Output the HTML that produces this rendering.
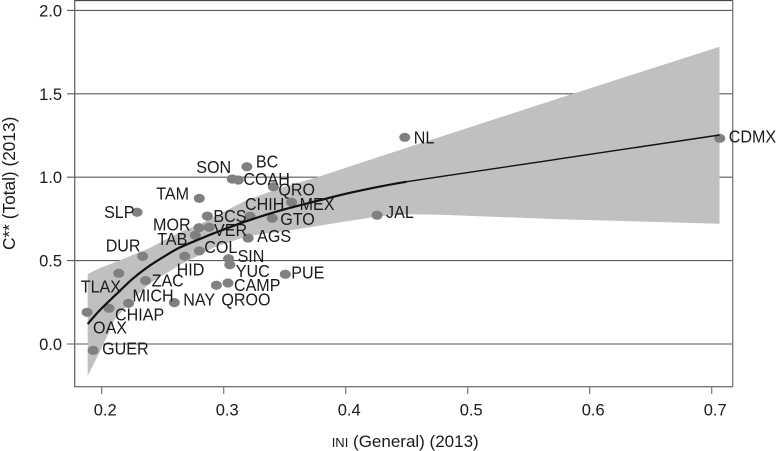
<!DOCTYPE html>
<html>
<head>
<meta charset="utf-8">
<title>C** vs INI (2013)</title>
<style>
html,body{margin:0;padding:0;background:#fff;}
svg{display:block;}
text{font-family:"Liberation Sans",sans-serif;fill:#1a1a1a;}
</style>
</head>
<body>
<svg id="chart" width="778" height="451" viewBox="0 0 778 451" xmlns="http://www.w3.org/2000/svg">
  <g id="grid"></g>
  <path id="band" fill="#c0c0c0"></path>
  <g id="points"></g>
  <path id="fit" fill="none" stroke="#111" stroke-width="2.2"></path>
  <path id="fitThin" fill="none" stroke="#111" stroke-width="1.4"></path>
  <g id="frame"></g>
  <g id="ticks"></g>
  <g id="labels"></g>
  <text transform="translate(15,250) rotate(-90) scale(.96,1)" font-size="18">C** (Total) (2013)</text>
  <text x="331.7" y="447" font-size="17"><tspan font-size="13">INI</tspan> (General) (2013)</text>
</svg>
<script>
const states = ["GUER","OAX","CHIAP","MICH","TLAX","ZAC","NAY","QROO","CAMP","PUE","YUC","SIN","COL","HID","DUR","TAB","MOR","VER","BCS","SLP","TAM","SON","COAH","BC","QRO","CHIH","MEX","GTO","AGS","JAL","NL","CDMX"];
const iniValues = [0.193,0.188,0.206,0.222,0.214,0.236,0.2595,0.294,0.3035,0.3505,0.305,0.304,0.280,0.268,0.2336,0.2767,0.2798,0.288,0.2866,0.229,0.280,0.307,0.312,0.319,0.3407,0.3216,0.3557,0.3398,0.320,0.4257,0.4484,0.7066];
const cValues = [-0.038,0.190,0.214,0.244,0.424,0.380,0.248,0.352,0.366,0.418,0.475,0.511,0.558,0.526,0.526,0.652,0.697,0.700,0.767,0.790,0.873,0.989,0.983,1.063,0.943,0.766,0.850,0.754,0.635,0.772,1.239,1.233];

const fitX = [0.1885,0.1986,0.2109,0.2257,0.2396,0.2533,0.2642,0.2806,0.2913,0.3189,0.3462,0.3762,0.4008,0.4280,0.4499,0.4772,0.5755,0.7064];
const fitY = [0.120,0.204,0.291,0.393,0.471,0.534,0.579,0.630,0.662,0.737,0.800,0.857,0.902,0.944,0.973,1.003,1.110,1.253];
const bandUpper = [0.420,0.456,0.490,0.534,0.576,0.630,0.671,0.719,0.761,0.863,0.935,0.999,1.058,1.124,1.176,1.241,1.475,1.782];
const bandLower = [-0.190,-0.046,0.150,0.270,0.366,0.426,0.474,0.534,0.576,0.647,0.673,0.707,0.736,0.766,0.778,0.775,0.748,0.721];

const xTicks = [0.2,0.3,0.4,0.5,0.6,0.7];
const yTicks = [0.0,0.5,1.0,1.5,2.0];

// label placement relative to each point (layout only)
const labelOffset = {GUER:[9,4],OAX:[6,21],CHIAP:[6,12],MICH:[4,-2],TLAX:[-38,19],ZAC:[6,6],NAY:[9,3],QROO:[5,20],CAMP:[6,8],PUE:[6,4],YUC:[6,12],SIN:[9,3],COL:[5,2],HID:[-8,19],DUR:[-37,-5],TAB:[-38,10],MOR:[-46,3],VER:[5,9],BCS:[6,6],SLP:[-33,6],TAM:[-43,1],SON:[-36,-6],COAH:[5,5],BC:[9,1],QRO:[5,9],CHIH:[-5,-6],MEX:[8,8],GTO:[8,7],AGS:[9,4],JAL:[9,3],NL:[9,6],CDMX:[9,4]};

const sx = v => 101.7 + (v - 0.2) * 1220;
const sy = v => 344 - v * 166.8;
const NS = "http://www.w3.org/2000/svg";
function make(parent, tag, attrs, txt) {
  const el = document.createElementNS(NS, tag);
  for (const k in attrs) el.setAttribute(k, attrs[k]);
  if (txt !== undefined) el.textContent = txt;
  document.getElementById(parent).appendChild(el);
  return el;
}

// gridlines and y ticks
yTicks.forEach(t => {
  const g = make("grid", "line", {x1: 67, x2: 733, y1: sy(t), y2: sy(t), stroke: "#5a5a5a", "stroke-width": 1.1});
  
  
  const l = make("ticks", "text", {x: 62, y: sy(t) + 6, "text-anchor": "end", "font-size": 16.5}, t.toFixed(1));
  
  
});

// smooth path through pixel-mapped data (Catmull-Rom)
function smooth(xs, ys) {
  const p = xs.map((x, i) => [sx(x), sy(ys[i])]);
  let s = "M" + p[0][0] + " " + p[0][1];
  for (let i = 0; i < p.length - 1; i++) {
    const a = p[Math.max(i - 1, 0)], b = p[i], c = p[i + 1], e = p[Math.min(i + 2, p.length - 1)];
    s += "C" + (b[0] + (c[0] - a[0]) / 6) + " " + (b[1] + (c[1] - a[1]) / 6) + " " +
         (c[0] - (e[0] - b[0]) / 6) + " " + (c[1] - (e[1] - b[1]) / 6) + " " + c[0] + " " + c[1];
  }
  return s;
}

// band
let d = "";
fitX.forEach((x, i) => { d += (i ? "L" : "M") + sx(x) + " " + sy(bandUpper[i]); });
for (let i = fitX.length - 1; i >= 0; i--) d += "L" + sx(fitX[i]) + " " + sy(bandLower[i]);
document.getElementById("band").setAttribute("d", d + "Z");

// fit: heavier within the dense range, thinner out to the last points
const denseCount = 15;
document.getElementById("fit").setAttribute("d", smooth(fitX.slice(0, denseCount), fitY.slice(0, denseCount)));
document.getElementById("fitThin").setAttribute("d", smooth(fitX.slice(denseCount - 1), fitY.slice(denseCount - 1)));

// frame
const frameTop = make("frame", "line", {x1: 74.7, x2: 733, y1: 0.5, y2: 0.5, stroke: "#444", "stroke-width": 1.2});


const frameRight = make("frame", "line", {x1: 732.7, x2: 732.7, y1: 0, y2: 387, stroke: "#777", "stroke-width": 1.3});


const frameLeft = make("frame", "line", {x1: 74.7, x2: 74.7, y1: 0, y2: 387, stroke: "#666", "stroke-width": 1.3});


const frameBottom = make("frame", "line", {x1: 74, x2: 733, y1: 386.7, y2: 386.7, stroke: "#777", "stroke-width": 1.3});



// x ticks
xTicks.forEach(t => {
  const m = make("ticks", "line", {x1: sx(t), x2: sx(t), y1: 387, y2: 394, stroke: "#777", "stroke-width": 1.2});
  
  
  const l = make("ticks", "text", {x: sx(t) + 3.5, y: 415.5, "text-anchor": "middle", "font-size": 16.5}, t.toFixed(1));
  
  
});

// points and labels
states.forEach((s, i) => {
  const px = sx(iniValues[i]), py = sy(cValues[i]);
  const p = make("points", "ellipse", {cx: px, cy: py, rx: 5.5, ry: 4.6, fill: "#808080"});
  
  
  const o = labelOffset[s];
  const t = make("labels", "text", {transform: "translate(" + (px + o[0]) + "," + (py + o[1]) + ") scale(.92,1)", "font-size": 17.5}, s);
  
  
});
</script>
</body>
</html>
